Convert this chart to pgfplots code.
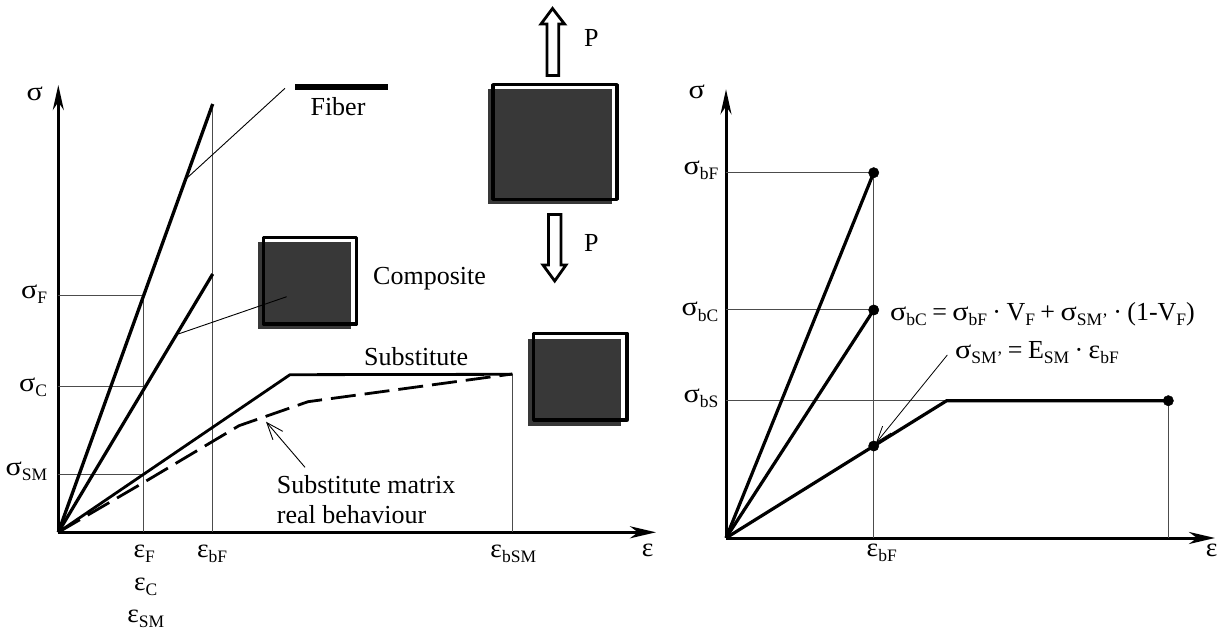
\documentclass[border=0pt]{standalone}
\usepackage{fontspec}
\setmainfont{Liberation Serif}
\usepackage{graphicx}
\usepackage{pgfplots}
\pgfplotsset{compat=1.18}
\usetikzlibrary{arrows.meta}
\newcommand\sub[1]{\raisebox{-0.2em}{\fontsize{17.5}{17.5}\selectfont #1}}
\newcommand\sg{\scalebox{1.16}[1.02]{σ}}
\newcommand\ep{\scalebox{1.06}[1.02]{ε}}
\newcommand\rb[2]{\raisebox{#1}{#2}}
\definecolor{fillc}{HTML}{383838}
\definecolor{thinc}{gray}{0.3}
\pgfplotsset{
  mystyle/.style={
    x=1pt,y=1pt,xmin=0,ymin=0,clip=false,
    axis lines=left,
    axis line style={line width=3pt,black},
    x axis line style={-{Stealth[length=26pt,width=12pt,inset=8pt]}},
    y axis line style={-{Stealth[length=25pt,width=11pt,inset=8pt]}},
    major tick length=0pt,
    xtick style={draw=none},ytick style={draw=none},
    x tick label style={anchor=base,inner sep=0pt,yshift=-25pt,xshift=1pt},
    y tick label style={anchor=base east,inner sep=0pt,yshift=-3pt,xshift=-11pt},
  },
  thick curve/.style={line width=3.2pt,black,line join=miter,mark=none},
  thin line/.style={line width=1pt,thinc,mark=none},
  leader/.style={line width=0.9pt,black,mark=none},
  outline/.style={line width=3.3pt,black,line join=round,mark=none},
  dark/.style={fill=fillc,draw=none,mark=none},
}
\tikzset{lbl/.style={inner sep=0pt,anchor=base},lblw/.style={inner sep=0pt,anchor=base west}}
\begin{document}
\fontsize{26}{30}\selectfont
\begin{tikzpicture}[x=1pt,y=1pt]
\path[use as bounding box] (0,0) rectangle (1225,629);
\begin{axis}[mystyle,at={(58.3pt,96.7pt)},anchor=origin,xmax=597.7,ymax=447.3,
  xtick={85,154.4,454},
  xticklabels={\ep\sub{F},\hspace{-3pt}\ep\sub{bF},\ep\sub{bSM}},
  ytick={58.3,146,236.6},
  yticklabels={\rb{2pt}{\sg\sub{SM}},\rb{-2.5pt}{\sg\sub{C}},\sg\sub{F}}]
\addplot[thin line] coordinates {(0,236.6) (85,236.6) (85,0)};
\addplot[thin line] coordinates {(0,146) (85,146)};
\addplot[thin line] coordinates {(0,58.3) (85,58.3)};
\addplot[thin line] coordinates {(154.4,428.3) (154.4,0)};
\addplot[thin line] coordinates {(454,158.3) (454,0)};
\addplot[thick curve,line width=3.3pt] coordinates {(0,0) (154.4,428.3)};
\addplot[thick curve] coordinates {(0,0) (154.4,258.3)};
\addplot[thick curve,line width=2.8pt] coordinates {(0,0) (231.7,157.6) (454,158)};
\addplot[thick curve,line width=2.8pt,dash pattern=on 25pt off 9pt] coordinates {(0,0) (86.7,50.6) (180.7,106.6) (249.7,130.6) (454,158.3)};
\addplot[leader] coordinates {(226.7,444) (128.4,354)};
\addplot[line width=6pt,black,mark=none] coordinates {(236.7,445.3) (329.7,445.3)};
% specimens
\addplot[dark] coordinates {(200,290.6) (292.7,290.6) (292.7,203.6) (200,203.6)} --cycle;
\addplot[outline] coordinates {(205,294.6) (298.4,294.6) (298.4,208.3) (205,208.3)} --cycle;
\addplot[leader] coordinates {(228.4,235.6) (120,198.3)};
\addplot[dark] coordinates {(430,443.6) (553.7,443.6) (553.7,328.6) (430,328.6)} --cycle;
\addplot[outline] coordinates {(434.7,447.6) (558.7,447.6) (558.7,333) (434.7,333)} --cycle;
\addplot[dark] coordinates {(470,193.3) (562.7,193.3) (562.7,106.6) (470,106.6)} --cycle;
\addplot[outline] coordinates {(475.4,199) (568.7,199) (568.7,112.3) (475.4,112.3)} --cycle;
% load arrows
\addplot[outline,line width=2.8pt,line join=miter] coordinates {(494.2,523.8) (506.2,508.3) (500.4,508.3) (500.4,456.8) (488.7,456.8) (488.7,508.3) (482.7,508.3)} --cycle;
\addplot[outline,line width=2.8pt,line join=miter] coordinates {(490.2,317.8) (502.7,317.8) (502.7,267.3) (507.7,267.3) (496.4,251.3) (484.7,267.3) (490.2,267.3)} --cycle;
\addplot[line width=0.9pt,black,mark=none,-{Straight Barb[length=17pt,width=13pt]}] coordinates {(246.7,65) (207.7,110.6)};
\node[lbl] at (axis cs:279.7,416.3) {Fiber};
\node[lblw] at (axis cs:314.7,247.3) {Composite};
\node[lblw] at (axis cs:305.7,166.6) {Substitute};
\node[lblw] at (axis cs:218.4,39) {Substitute matrix};
\node[lblw] at (axis cs:218.4,9) {real behaviour};
\node[lblw] at (axis cs:525.7,485.6) {P};
\node[lblw] at (axis cs:525.7,280.6) {P};
\node[lbl] at (axis cs:-23.6,431.6) {\sg};
\node[lbl] at (axis cs:589.4,-24.4) {\ep};
\node[lbl] at (axis cs:87.4,-58.4) {\ep\sub{C}};
\node[lbl] at (axis cs:87.4,-89.7) {\ep\sub{SM}};
\end{axis}
\begin{axis}[mystyle,at={(726pt,91pt)},anchor=origin,xmax=489,ymax=448.7,
  xtick={147.7},
  xticklabels={\hspace{14pt}\ep\sub{bF}},
  x tick label style={yshift=6.3pt},
  y tick label style={xshift=3.5pt},
  ytick={137.3,228,365.3},
  yticklabels={\rb{1.5pt}{\sg\sub{bS}},\rb{-3pt}{\sg\sub{bC}},\rb{1.5pt}{\sg\sub{bF}}}]
\addplot[thin line] coordinates {(0,365.3) (147.7,365.3) (147.7,0)};
\addplot[thin line] coordinates {(0,228) (147.7,228)};
\addplot[thin line] coordinates {(0,137.3) (220.7,137.3)};
\addplot[thin line] coordinates {(442.3,137.3) (442.3,0)};
\addplot[thick curve] coordinates {(0,0) (147.7,365.3)};
\addplot[thick curve] coordinates {(0,0) (147.7,228)};
\addplot[thick curve] coordinates {(0,0) (147.7,92) (220.7,137.3) (442.3,137.3)};
\addplot[only marks,mark=*,mark size=5.2pt,black] coordinates {(147.7,365.3) (147.7,228) (147.7,92) (442.3,137.3)};
\addplot[line width=0.8pt,black,mark=none,-{Straight Barb[length=16pt,width=11pt]}] coordinates {(221.3,183) (150,95)};
\node[lblw] at (axis cs:164,217.3) {\spaceskip=5.4pt \sg\sub{bC} = \sg\sub{bF} · V\sub{F} + \sg\sub{SM’} · (1-V\sub{F})};
\node[lblw] at (axis cs:229,179.7) {\spaceskip=5.4pt \sg\sub{SM’} = E\sub{SM} · \ep\sub{bF}};
\node[lbl] at (axis cs:-29.3,439.3) {\sg};
\node[lbl] at (axis cs:485.7,-18.7) {\ep};
\end{axis}
\end{tikzpicture}
\end{document}
